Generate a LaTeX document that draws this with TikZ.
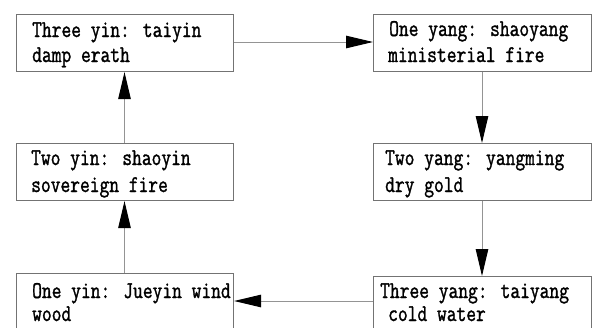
\documentclass[tikz,border=0pt]{standalone}
\usepackage{fontspec}
\usetikzlibrary{arrows.meta}
\newfontfamily\boxfont[FakeStretch=0.79,FakeBold=1.3]{Latin Modern Mono}
\begin{document}
\begin{tikzpicture}[x=1pt,y=-1pt,
  box/.style={draw=black!55,line width=1.1pt,rectangle,inner sep=0pt,anchor=north west,minimum width=217pt,minimum height=57pt},
  lbl/.style={anchor=base west,inner sep=0pt,font=\boxfont\fontsize{24}{24}\selectfont},
  conn/.style={draw=black!42,line width=1pt,-{Triangle[length=27pt,width=12.5pt,color=black]}}]
\useasboundingbox (0,0) rectangle (592,327);
\clip (0,0) rectangle (592,327);
\node[box] (b1) at (16,14) {};
\node[box,minimum width=218pt] (b2) at (373,14) {};
\node[box] (b3) at (16,143) {};
\node[box,minimum width=218pt] (b4) at (373,143) {};
\node[box,minimum height=70pt] (b5) at (16,273) {};
\node[box,minimum width=218pt,minimum height=70pt] (b6) at (373,276) {};
\node[lbl] (t1a) at (32,37) {Three yin: taiyin};
\node[lbl] (t1b) at (32,62) {damp erath};
\node[lbl] (t2a) at (389,36) {One yang: shaoyang};
\node[lbl] (t2b) at (388,62) {ministerial fire};
\node[lbl] (t3a) at (31,165) {Two yin: shaoyin};
\node[lbl] (t3b) at (31,192) {sovereign fire};
\node[lbl] (t4a) at (385,165) {Two yang: yangming};
\node[lbl] (t4b) at (385,192) {dry gold};
\node[lbl] (t5a) at (32,298) {One yin: Jueyin wind};
\node[lbl] (t5b) at (32,321) {wood};
\node[lbl] (t6a) at (380,298) {Three yang: taiyang};
\node[lbl] (t6b) at (388,321) {cold water};
\coordinate (h1) at (0,42);
\coordinate (h2) at (0,301);
\coordinate (v1) at (124.5,0);
\coordinate (v2) at (482,0);
\draw[conn] (b1.east |- h1) -- (b2.west |- h1);
\draw[conn] (b2.south -| v2) -- (b4.north -| v2);
\draw[conn] (b4.south -| v2) -- (b6.north -| v2);
\draw[conn] (b6.west |- h2) -- (b5.east |- h2);
\draw[conn] (b5.north -| v1) -- (b3.south -| v1);
\draw[conn] (b3.north -| v1) -- (b1.south -| v1);
\end{tikzpicture}
\end{document}
